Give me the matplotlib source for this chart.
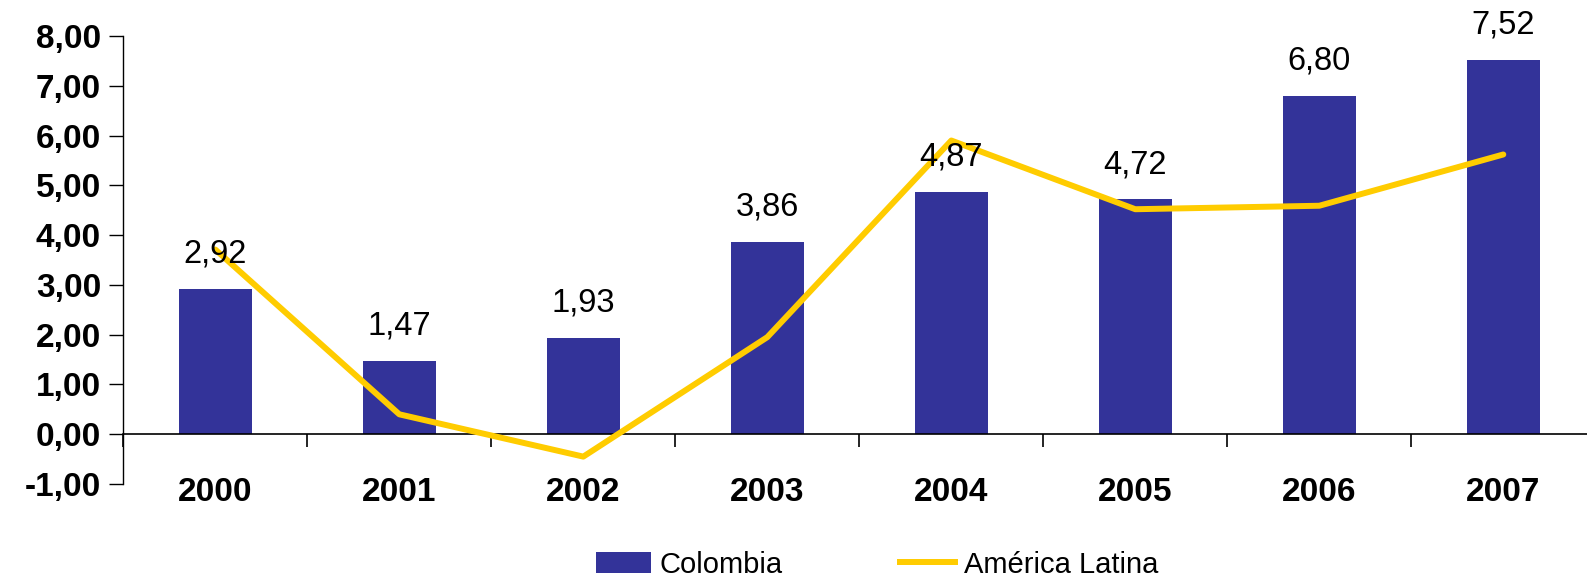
import matplotlib
matplotlib.use("Agg")
import matplotlib.pyplot as plt
import matplotlib.transforms as mtransforms
from matplotlib.patches import Patch
from matplotlib.lines import Line2D

years = ["2000", "2001", "2002", "2003", "2004", "2005", "2006", "2007"]
colombia = [2.92, 1.47, 1.93, 3.86, 4.87, 4.72, 6.80, 7.52]
america_latina = [3.71, 0.40, -0.45, 1.95, 5.90, 4.52, 4.59, 5.62]
y_ticks = [-1, 0, 1, 2, 3, 4, 5, 6, 7, 8]

bar_color = "#333399"
line_color = "#FFCC00"

plt.rcParams["font.family"] = ["Liberation Sans", "DejaVu Sans"]

W, H = 1587, 581
fig = plt.figure(figsize=(W / 100, H / 100), dpi=100)
left = 123.3 / W
width = 1472.0 / W
top = 1 - 36.0 / H
bottom = 1 - 484.0 / H
ax = fig.add_axes([left, bottom, width, top - bottom])

x = list(range(len(years)))
ax.bar(x, colombia, width=0.4, color=bar_color, zorder=2)
ax.plot(x, america_latina, color=line_color, lw=4.3, solid_capstyle="round", zorder=3)

ax.set_xlim(-0.5, len(years) - 0.5)
ax.set_ylim(-1, 8)

ax.spines["top"].set_visible(False)
ax.spines["right"].set_visible(False)
ax.spines["bottom"].set_position(("data", 0))
ax.spines["left"].set_linewidth(1.0)
ax.spines["bottom"].set_linewidth(1.2)

ax.set_yticks(y_ticks)
ax.set_yticklabels([f"{v:.2f}".replace(".", ",") for v in y_ticks],
                   fontsize=24, fontweight="bold")
ax.tick_params(axis="y", direction="out", length=10, width=1.0, pad=6)

ax.set_xticks([i + 0.5 for i in range(-1, len(years))])
ax.set_xticklabels([])
ax.tick_params(axis="x", direction="out", length=9, width=1.2)

trans = mtransforms.blended_transform_factory(ax.transData, ax.transAxes)
for i, yr in enumerate(years):
    ax.text(i, -0.02, yr, transform=trans, ha="center", va="center",
            fontsize=24, fontweight="bold")

for i, v in enumerate(colombia):
    ax.annotate(f"{v:.2f}".replace(".", ","), xy=(i, v), xytext=(0, 25),
                textcoords="offset points", ha="center", va="center",
                fontsize=23.5)

handles = [Patch(facecolor=bar_color, edgecolor="none"),
           Line2D([0], [0], color=line_color, lw=4.3)]
fig.legend(handles, ["Colombia", "América Latina"], loc="center",
           bbox_to_anchor=(0.5526, 0.028), ncol=2, frameon=False, fontsize=21,
           handlelength=1.9, handleheight=0.74, handletextpad=0.3,
           columnspacing=4.0)

fig.savefig("out.png", dpi=100)
